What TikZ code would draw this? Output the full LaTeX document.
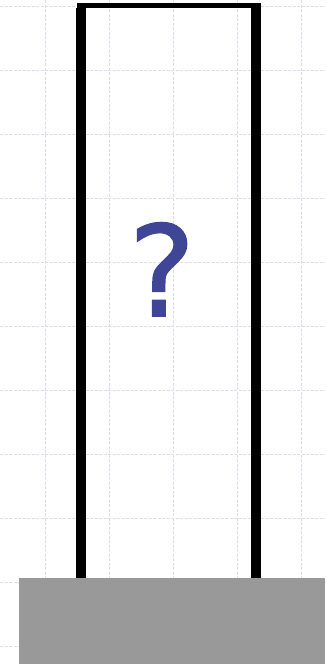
\documentclass[tikz,border=0pt]{standalone}
\usepackage{fontspec}
\newfontfamily\qfont[FakeBold=1.2]{DejaVu Sans}
\definecolor{gridc}{RGB}{218,220,248}
\definecolor{baseg}{RGB}{153,153,153}
\definecolor{qblue}{RGB}{64,70,150}
\tikzset{
  gridline/.style={draw=gridc, line width=1pt, dash pattern=on 3pt off 1.5pt},
  wall/.style={draw=black, line width=10pt, line cap=butt},
  topbar/.style={draw=black, line width=5pt, line cap=butt},
}
\begin{document}
\begin{tikzpicture}[x=1pt,y=-1pt]
\useasboundingbox (0,0) rectangle (325,664);
\fill[white] (0,0) rectangle (325,664);
% grid
\foreach \gx in {45.5,109.5,173.5,237.5,301.5}
  \draw[gridline] (\gx,0) -- (\gx,664);
\foreach \gy in {6,70,134,198,262,326,390,454,518,582,646}
  \draw[gridline] (0,\gy) -- (325,\gy);
% tube
\draw[wall] (81.3,8) -- (81.3,578);
\draw[wall] (256,3) -- (256,578);
\draw[topbar] (77,5.5) -- (261,5.5);
% base
\fill[baseg] (19,578) rectangle (325,664);
% question mark
\node[anchor=base, inner sep=0pt, text=qblue, font=\qfont\fontsize{126}{126}\selectfont] (q) at (162,316) {?};
\end{tikzpicture}
\end{document}
